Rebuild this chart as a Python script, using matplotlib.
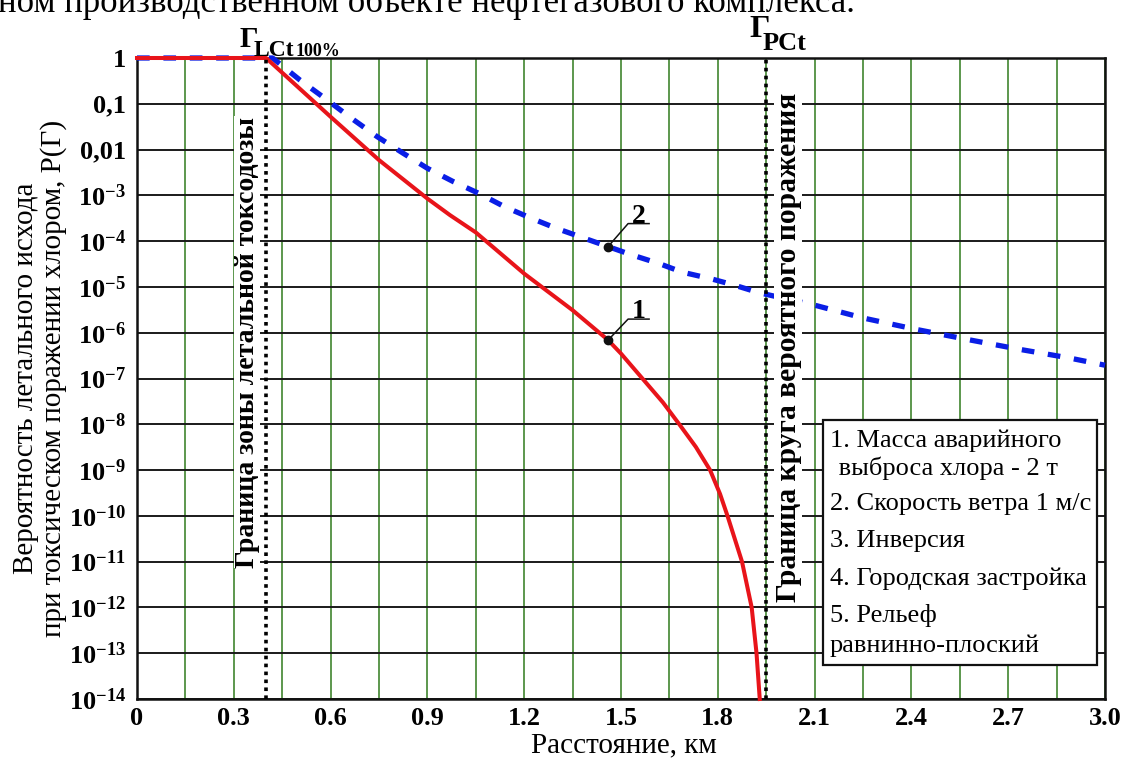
import matplotlib
matplotlib.use("Agg")
import matplotlib.pyplot as plt
import matplotlib.transforms as mtransforms
from matplotlib.patches import Rectangle
from matplotlib.ticker import MultipleLocator, NullFormatter

plt.rcParams["font.family"] = ["Liberation Serif", "DejaVu Serif"]
plt.rcParams["mathtext.fontset"] = "custom"
plt.rcParams["mathtext.rm"] = "Liberation Serif"
plt.rcParams["mathtext.bf"] = "Liberation Serif:bold"
plt.rcParams["mathtext.it"] = "Liberation Serif:italic"

# Curve 1: probability of lethal outcome, 2 t chlorine release (solid red)
dist_mass = [0.0, 0.40, 0.60, 0.75, 0.90, 0.97, 1.05, 1.20, 1.35, 1.46, 1.50,
             1.63, 1.683, 1.732, 1.776, 1.807, 1.83, 1.875, 1.905, 1.92, 1.93]
prob_mass = [1.0, 1.0, 5.2e-2, 5.9e-3, 8.5e-4, 3.7e-4, 1.55e-4, 1.95e-5, 3.1e-6,
             6.9e-7, 3.5e-7, 3.0e-8, 9.5e-9, 3.2e-9, 1.0e-9, 3.0e-10, 1.0e-10,
             1.0e-11, 1.0e-12, 1.0e-13, 1.0e-14]

# Curve 2: wind speed 1 m/s (dashed blue)
dist_wind = [0.0, 0.42, 0.505, 0.59, 0.665, 0.745, 0.825, 0.90, 0.98, 1.06, 1.14,
             1.22, 1.30, 1.38, 1.46, 1.53, 1.62, 1.69, 1.78, 1.85, 1.93, 2.10,
             2.25, 2.41, 2.57, 2.73, 2.89, 3.00]
prob_wind = [1.0, 1.0, 0.33, 0.12, 4.8e-2, 1.9e-2, 8.3e-3, 3.9e-3, 2.0e-3, 1.1e-3,
             5.6e-4, 3.2e-4, 1.9e-4, 1.2e-4, 7.6e-5, 5.1e-5, 3.2e-5, 2.1e-5,
             1.5e-5, 1.1e-5, 7.4e-6, 4.0e-6, 2.1e-6, 1.2e-6, 7.2e-7, 4.4e-7,
             2.8e-7, 1.95e-7]

# Boundaries, km
lethal_boundary_km = 0.40
probable_boundary_km = 1.95

# Labelled points on the curves
marker_dist = [1.46, 1.46]
marker_prob = [6.9e-7, 7.6e-5]
marker_names = ["1", "2"]

x_ticks = [0.0, 0.3, 0.6, 0.9, 1.2, 1.5, 1.8, 2.1, 2.4, 2.7, 3.0]
x_tick_labels = ["0", "0.3", "0.6", "0.9", "1.2", "1.5", "1.8", "2.1", "2.4", "2.7", "3.0"]
y_ticks = [10.0 ** -k for k in range(0, 15)]
y_tick_labels = ["1", "0,1", "0,01"] + [r"$\mathbf{10^{-%d}}$" % k for k in range(3, 15)]

conditions = [
    "1. Масса аварийного",
    " выброса хлора - 2 т",
    "2. Скорость ветра 1 м/с",
    "3. Инверсия",
    "4. Городская застройка",
    "5. Рельеф",
    "равнинно-плоский",
]

W, H = 1122, 763
fig = plt.figure(figsize=(W / 100, H / 100), dpi=100)


def fx(px):
    return px / W


def fy(py):
    return 1 - py / H


L, R, T, B = 137, 1105, 58, 699
ax = fig.add_axes([fx(L), fy(B), fx(R) - fx(L), fy(T) - fy(B)])
ax.set_yscale("log")

# grid: green verticals every 0.15 km, black horizontals every decade
ax.xaxis.set_minor_locator(MultipleLocator(0.15))
ax.xaxis.set_minor_formatter(NullFormatter())
ax.grid(axis="x", which="both", color="#4f8f3f", lw=1.3, zorder=0)
ax.grid(axis="y", which="major", color="#1a1a1a", lw=1.4, zorder=0)
ax.set_axisbelow(True)

ax.plot(dist_wind, prob_wind, color="#0a1ee6", lw=3.8, ls=(0, (2.4, 2.6)),
        dash_capstyle="butt", zorder=3, clip_on=False)
ax.plot(dist_mass, prob_mass, color="#e8141a", lw=2.9, zorder=4, clip_on=False)

for xb in (lethal_boundary_km, probable_boundary_km):
    ax.axvline(xb, color="black", lw=2.6, ls=(0, (1, 1.2)), dash_capstyle="butt",
               zorder=5)

ax.set_xlim(0, 3.0)
ax.set_ylim(1e-14, 1.0)
ax.set_xticks(x_ticks, x_tick_labels, fontsize=19, fontweight="bold")
ax.set_yticks(y_ticks, y_tick_labels, fontsize=19, fontweight="bold")
ax.yaxis.set_minor_formatter(NullFormatter())
ax.tick_params(axis="both", which="both", length=0)
ax.tick_params(axis="y", pad=8)
ax.tick_params(axis="x", pad=6)
for s in ax.spines.values():
    s.set_linewidth(1.8)
    s.set_color("#111111")

# markers with leader lines and numbers
ax.plot(marker_dist, marker_prob, "o", color="#111111", ms=6, zorder=6)
for x, p, name in zip(marker_dist, marker_prob, marker_names):
    rise = 0.21 if name == "1" else 0.23
    trans = fig.dpi_scale_trans + mtransforms.ScaledTranslation(x, p, ax.transData)
    ax.plot([0, 0.20, 0.41], [0, rise, rise], transform=trans, color="#111111",
            lw=1.1, zorder=6)
    ax.text(0.31, rise + 0.01, name, transform=trans, ha="center", va="baseline",
            fontsize=20, fontweight="bold", zorder=6)

# vertical boundary captions
fig.text(fx(247), fy(342), "Граница зоны летальной токсодозы", rotation=90,
         ha="center", va="center", fontsize=20, fontweight="bold",
         bbox=dict(facecolor="white", edgecolor="none", pad=0.5), zorder=7)
fig.text(fx(788), fy(347), "Граница круга вероятного поражения", rotation=90,
         ha="center", va="center", fontsize=21.3, fontweight="bold",
         bbox=dict(facecolor="white", edgecolor="none", pad=0.5), zorder=7)

# boundary symbols above the plot
fig.text(fx(240), fy(47), "Г", fontsize=21, fontweight="bold", va="baseline")
fig.text(fx(254), fy(56), "LCt", fontsize=17, fontweight="bold", va="baseline")
fig.text(fx(296), fy(56), "100%", fontsize=13, fontweight="bold", va="baseline")
fig.text(fx(749), fy(37), "Г", fontsize=23, fontweight="bold", va="baseline")
fig.text(fx(763), fy(50), "PCt", fontsize=19, fontweight="bold", va="baseline")

# conditions box
bx0, bx1, by0, by1 = 823, 1097, 420, 665
box = Rectangle((fx(bx0), fy(by1)), fx(bx1) - fx(bx0), fy(by0) - fy(by1),
                transform=fig.transFigure, facecolor="white", edgecolor="#111111",
                lw=1.6, zorder=8)
fig.add_artist(box)
baselines = [447, 475, 510, 547, 585, 622, 652]
for line, yb in zip(conditions, baselines):
    x0 = 830 if not line.startswith(" ") else 832
    fig.text(fx(x0), fy(yb), line, fontsize=19, va="baseline", ha="left", zorder=9)

# axis titles
fig.text(fx(624), fy(745), "Расстояние, км", fontsize=21, ha="center", va="center")
fig.text(fx(40), fy(378),
         "Вероятность летального исхода\nпри токсическом поражении хлором, Р(Г)",
         rotation=90, ha="center", va="center", fontsize=21, linespacing=1.05,
         multialignment="center")

# running text line of the page, cut by the top edge
fig.text(fx(-2), fy(12), "ном производственном объекте нефтегазового комплекса.",
         fontsize=25, ha="left", va="baseline")

fig.savefig("out.png", dpi=100)
